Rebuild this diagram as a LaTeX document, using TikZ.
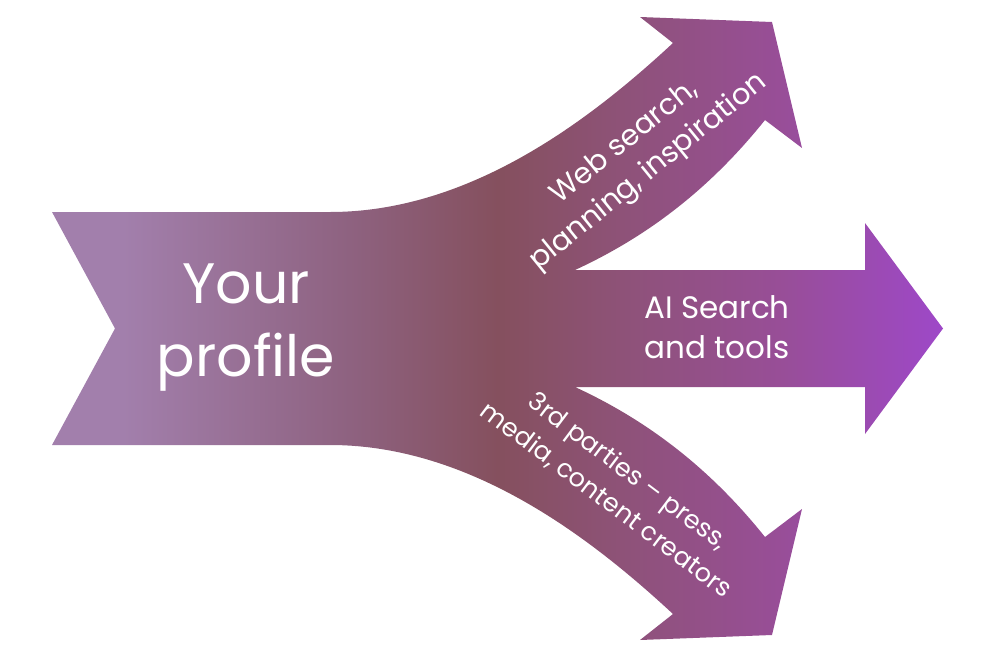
\documentclass[tikz,border=0pt]{standalone}
\usepackage{fontspec}
\setmainfont{Poppins}
\definecolor{lilac}{HTML}{A27FAC}
\definecolor{dusk}{HTML}{8E6280}
\definecolor{plum}{HTML}{85505E}
\definecolor{berry}{HTML}{8E5278}
\definecolor{orchid}{HTML}{984E98}
\definecolor{amethyst}{HTML}{9E48C8}
\usetikzlibrary{positioning}

% gradient of the whole arrow: the path spans 25bp..75bp
\pgfdeclarehorizontalshading{profileflow}{100bp}{%
  color(0bp)=(lilac); color(29bp)=(lilac); color(41.7bp)=(dusk);
  color(50bp)=(plum); color(57bp)=(berry); color(66bp)=(orchid);
  color(75bp)=(amethyst); color(100bp)=(amethyst)}

\begin{document}
\begin{tikzpicture}[
    x=1pt, y=-1pt,
    flowtext/.style={text=white, align=center, inner sep=0pt}
]
    \useasboundingbox (0,0) rectangle (996,664);

    % Arrow body with the three branches
    \shade[shading=profileflow] (52,212) -- (330,212)
        .. controls (470,212) and (590,120) .. (673,43)
        -- (640,17) -- (772,22) -- (802,148) -- (765,120)
        .. controls (705,195) and (640,240) .. (575,270)
        -- (865,270) -- (865,223) -- (943,328.5) -- (865,434) -- (865,387)
        -- (575,387)
        .. controls (640,417) and (705,462) .. (765,537)
        -- (802,509) -- (772,635) -- (640,640) -- (673,614)
        .. controls (590,537) and (470,445) .. (330,445)
        -- (52,445) -- (115,328.5) -- cycle;

    % Labels
    \node[flowtext, font=\fontsize{57}{73}\selectfont] (profile) at (246,328)
        {Your\\profile};
    \node[flowtext, font=\fontsize{31}{40}\selectfont] (ai) at (717,327)
        {AI Search\\and tools};
    \node[flowtext, font=\fontsize{29}{38}\selectfont, rotate=39] (web) at (637,158)
        {Web search,\\planning, inspiration};
    \node[flowtext, font=\fontsize{25.5}{36}\selectfont, rotate=-37] (press) at (617,486)
        {3rd parties – press,\\media, content creators};
\end{tikzpicture}
\end{document}
